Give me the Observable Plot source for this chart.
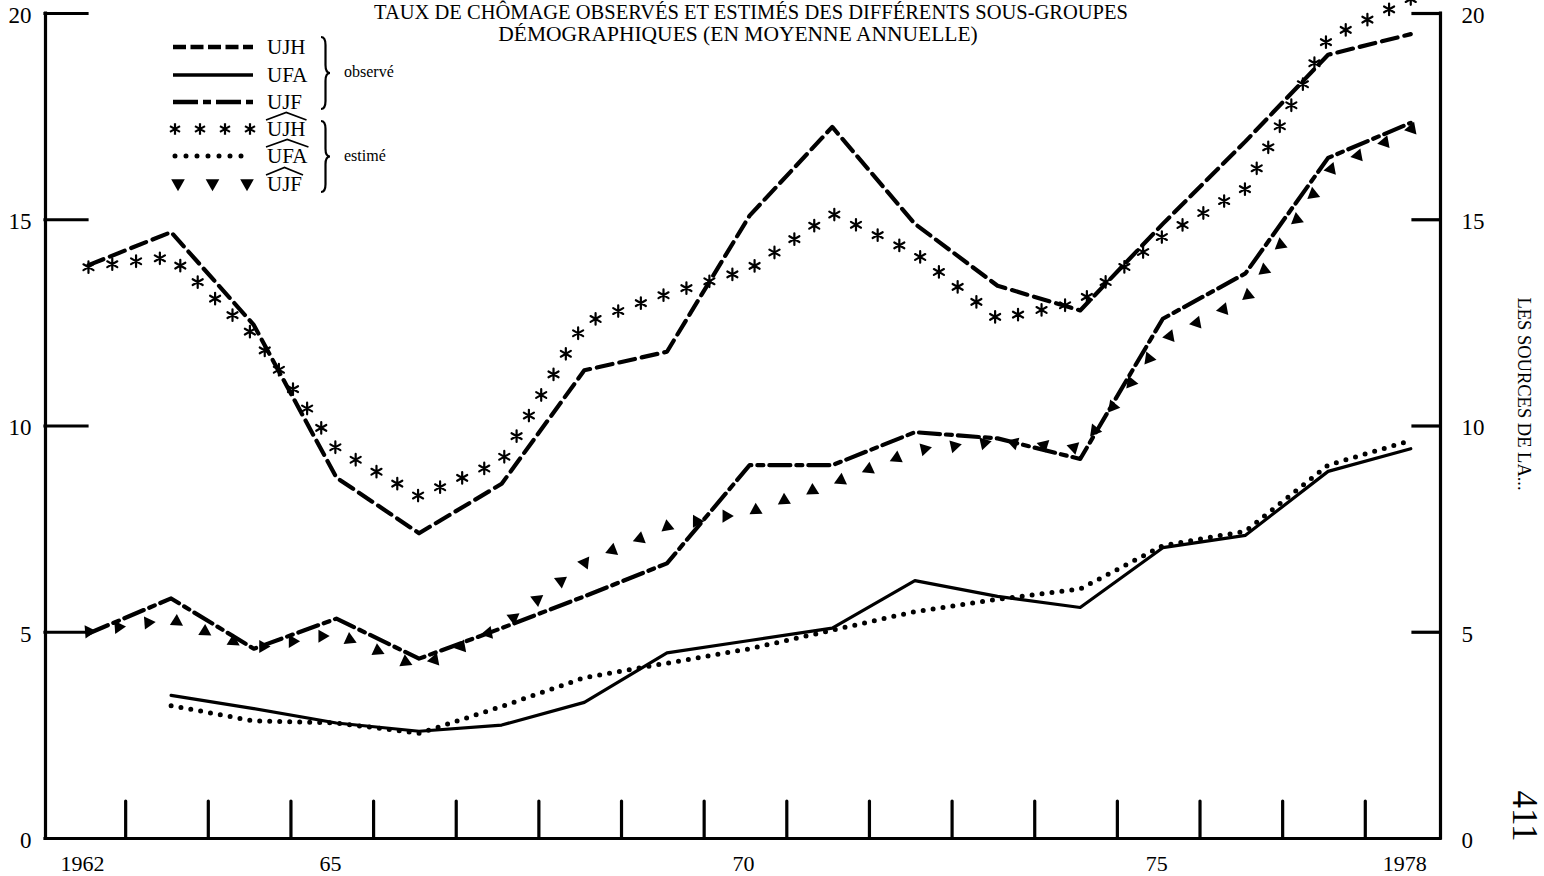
<!DOCTYPE html>
<html lang="fr">
<head>
<meta charset="utf-8">
<script src="https://cdn.jsdelivr.net/npm/d3@7"></script>
<script src="https://cdn.jsdelivr.net/npm/@observablehq/plot@0.6"></script>
<style>
  html, body { margin: 0; padding: 0; background: #fff; }
  #wrap { position: relative; width: 1544px; height: 876px; overflow: hidden; }
  #wrap svg { position: absolute; left: 0; top: 0; }
</style>
</head>
<body>
<div id="wrap"></div>
<script>
// ---------- data ----------
const years  = [1962,1963,1964,1965,1966,1967,1968,1969,1970,1971,1972,1973,1974,1975,1976,1977,1978];
// observed
const ujhObs = [13.9,14.7,12.45,8.75,7.4,8.6,11.35,11.8,15.1,17.25,14.9,13.4,12.8,14.9,16.9,19.0,19.5];
const ufaObs = [null,3.47,3.15,2.8,2.6,2.75,3.3,4.5,4.8,5.1,6.25,5.87,5.6,7.05,7.35,8.9,9.45];
const ujfObs = [4.97,5.82,4.6,5.33,4.36,5.1,5.87,6.67,9.05,9.05,9.85,9.7,9.2,12.6,13.7,16.5,17.35];
// estimated
const ujhEst = [13.85,14.1,12.2,9.45,8.3,9.15,12.5,13.2,13.8,15.15,14.2,12.6,13.0,14.6,15.75,19.4,20.35];
const ufaEst = [null,3.22,2.85,2.8,2.55,3.2,3.9,4.25,4.6,5.05,5.5,5.8,6.05,7.1,7.45,9.05,9.65];
const ujfEst = [5.0,5.3,4.6,4.95,4.15,5.15,6.7,7.55,7.9,8.6,9.4,9.6,9.45,12.1,13.1,16.2,17.2];

const yTicks      = [0, 5, 10, 15, 20];
const xLabelYears = [1962, 1965, 1970, 1975, 1978];
const xLabels     = ["1962", "65", "70", "75", "1978"];
const yearBounds  = years.slice(1);   // small ticks between the annual points

const titleLines  = ["TAUX DE CHÔMAGE OBSERVÉS ET ESTIMÉS DES DIFFÉRENTS SOUS-GROUPES",
                     "DÉMOGRAPHIQUES (EN MOYENNE ANNUELLE)"];
const sideNote    = "LES SOURCES DE LA...";
const pageNumber  = "411";
const legendLabels = ["UJH", "UFA", "UJF", "UJH", "UFA", "UJF"];
const groupLabels  = ["observé", "estimé"];

// ---------- table for Plot ----------
const rows = years.map((year, i) => ({
  year, ujhObs: ujhObs[i], ufaObs: ufaObs[i], ujfObs: ujfObs[i],
  ujhEst: ujhEst[i], ufaEst: ufaEst[i], ujfEst: ujfEst[i]
}));
const has = k => rows.filter(d => d[k] != null);

// ---------- layout ----------
const W = 1544, H = 876;
const mL = 45, mR = 104, mT = 13, mB = 38;
const X0 = 1961.48, X1 = 1978.36;
const pxPerYear = (W - mL - mR) / (X1 - X0);
const pxPerUnit = (H - mT - mB) / 20;
const FONT = "'Liberation Serif', 'DejaVu Serif', 'Times New Roman', serif";
const SW = 3.2;

const plot = Plot.plot({
  width: W, height: H,
  marginLeft: mL, marginRight: mR, marginTop: mT, marginBottom: mB,
  x: { domain: [X0, X1], axis: null },
  y: { domain: [0, 20], axis: null },
  style: { fontFamily: FONT, background: "#fff", color: "#000", overflow: "visible" },
  marks: [
    // axes frame
    Plot.ruleX([X0, X1], { y1: 0, y2: 20, stroke: "#000", strokeWidth: SW, strokeLinecap: "square" }),
    Plot.ruleY([0], { x1: X0, x2: X1, stroke: "#000", strokeWidth: SW, strokeLinecap: "square" }),
    Plot.ruleY(yTicks.slice(1), { x1: X0, x2: X0 + 42 / pxPerYear, stroke: "#000", strokeWidth: SW, strokeLinecap: "square" }),
    Plot.ruleY(yTicks.slice(1), { x1: X1 - 27 / pxPerYear, x2: X1, stroke: "#000", strokeWidth: SW, strokeLinecap: "square" }),
    Plot.ruleX(yearBounds, { x: d => d - 0.55, y1: 0, y2: 37 / pxPerUnit, stroke: "#000", strokeWidth: SW, strokeLinecap: "round" }),
    // tick labels
    Plot.text(yTicks, { x: X0, y: d => d, text: d => String(d), textAnchor: "end", dx: -14, dy: 2, fontSize: 23 }),
    Plot.text(yTicks, { x: X1, y: d => d, text: d => String(d), textAnchor: "start", dx: 21, dy: 2, fontSize: 23 }),
    Plot.text(xLabelYears, { x: d => d, y: 0, text: (d, i) => xLabels[i], dy: 25, dx: -6, fontSize: 22 }),
    // title
    Plot.text([titleLines[0]], { frameAnchor: "top", text: d => d, dx: 8, dy: -1.5, lineAnchor: "middle", textAnchor: "middle", fontSize: 20.5 }),
    Plot.text([titleLines[1]], { frameAnchor: "top", text: d => d, dx: -5, dy: 21, lineAnchor: "middle", textAnchor: "middle", fontSize: 21.5 }),
    // side notes
    Plot.text([sideNote], { frameAnchor: "right", text: d => d, rotate: 90, dx: 83, dy: -32, textAnchor: "middle", lineAnchor: "middle", fontSize: 18.5 }),
    Plot.text([pageNumber], { frameAnchor: "right", text: d => d, rotate: 90, dx: 84, dy: 390, textAnchor: "middle", lineAnchor: "middle", fontSize: 35 }),
    // observed series
    Plot.line(has("ujhObs"), { x: "year", y: "ujhObs", stroke: "#000", strokeWidth: 4.2, strokeDasharray: "16,7", strokeLinejoin: "round", ariaDescription: "UJH observé" }),
    Plot.line(has("ufaObs"), { x: "year", y: "ufaObs", stroke: "#000", strokeWidth: 3.2, strokeLinejoin: "round", ariaDescription: "UFA observé" }),
    Plot.line(has("ujfObs"), { x: "year", y: "ujfObs", stroke: "#000", strokeWidth: 4.2, strokeDasharray: "21,6,6,6", strokeLinejoin: "round", ariaDescription: "UJF observé" }),
    // estimated series (asterisks / dots / triangles drawn along these lines)
    Plot.line(has("ujhEst"), { x: "year", y: "ujhEst", stroke: "#000", strokeOpacity: 0, strokeWidth: 1, ariaDescription: "UJH estime" }),
    Plot.line(has("ufaEst"), { x: "year", y: "ufaEst", stroke: "#000", strokeWidth: 5, strokeDasharray: "0,10", strokeLinecap: "round", ariaDescription: "UFA estime" }),
    Plot.line(has("ujfEst"), { x: "year", y: "ujfEst", stroke: "#000", strokeOpacity: 0, strokeWidth: 1, ariaDescription: "UJF estime" })
  ]
});

const wrap = document.getElementById("wrap");
wrap.appendChild(plot);

// ---------- symbol helpers ----------
const NS = "http://www.w3.org/2000/svg";
function el(name, attrs) {
  const e = document.createElementNS(NS, name);
  for (const k in attrs) e.setAttribute(k, attrs[k]);
  return e;
}
function asterisk(x, y, r = 5.8) {
  let d = "";
  for (const a of [90, 30, 150]) {
    const c = Math.cos(a * Math.PI / 180) * r, s = Math.sin(a * Math.PI / 180) * r;
    d += `M${(x - c).toFixed(2)},${(y - s).toFixed(2)}L${(x + c).toFixed(2)},${(y + s).toFixed(2)}`;
  }
  return el("path", { d, stroke: "#000", "stroke-opacity": 1, "stroke-width": 2.2, "stroke-dasharray": "none", fill: "none" });
}
function triangle(x, y, rot = 0, s = 1) {
  const d = `M${-6.5 * s},${-4.6 * s}L${6.5 * s},${-4.6 * s}L0,${6.8 * s}Z`;
  return el("path", { d, fill: "#000", "fill-opacity": 1, stroke: "none", transform: `translate(${x.toFixed(2)},${y.toFixed(2)}) rotate(${rot.toFixed(1)})` });
}
function findLine(desc) {
  return [...plot.querySelectorAll("g")].find(g => g.getAttribute("aria-description") === desc);
}
function alongPath(desc, spacing, make) {
  const g = findLine(desc);
  if (!g) return;
  const path = g.querySelector("path");
  const L = path.getTotalLength();
  const n = Math.max(1, Math.round(L / spacing));
  const step = L / n;
  for (let k = 0; k <= n; k++) {
    const s = k * step;
    const p = path.getPointAtLength(s);
    const a = path.getPointAtLength(Math.max(0, s - 2)), b = path.getPointAtLength(Math.min(L, s + 2));
    const ang = Math.atan2(b.y - a.y, b.x - a.x) * 180 / Math.PI;
    g.appendChild(make(p.x, p.y, ang));
  }
}
alongPath("UJH estime", 24, (x, y) => asterisk(x, y));
alongPath("UJF estime", 30, (x, y, ang) => {
  const t = Math.max(-60, Math.min(60, ang));
  return triangle(x, y, -3 * t);
});

// ---------- legend (inside the frame, top-left) ----------
const leg = el("svg", { width: W, height: H, style: "position:absolute;left:0;top:0;pointer-events:none", "font-family": FONT });
wrap.appendChild(leg);
const rowY = [47, 75, 102, 129, 156, 184];
const sx0 = 173, sx1 = 253, labelX = 267;
leg.appendChild(el("line", { x1: sx0, x2: sx1, y1: rowY[0], y2: rowY[0], stroke: "#000", "stroke-width": 4.5, "stroke-dasharray": "13,4.5" }));
leg.appendChild(el("line", { x1: sx0, x2: sx1, y1: rowY[1], y2: rowY[1], stroke: "#000", "stroke-width": 3.6 }));
leg.appendChild(el("line", { x1: sx0, x2: sx1, y1: rowY[2], y2: rowY[2], stroke: "#000", "stroke-width": 4.5, "stroke-dasharray": "25,5,8,5" }));
for (let k = 0; k < 4; k++) leg.appendChild(asterisk(175 + k * 25, rowY[3]));
leg.appendChild(el("line", { x1: 175, x2: 252, y1: rowY[4], y2: rowY[4], stroke: "#000", "stroke-width": 5, "stroke-dasharray": "0,11", "stroke-linecap": "round" }));
for (let k = 0; k < 3; k++) leg.appendChild(triangle(178 + k * 34.5, rowY[5], 0, 1.05));
legendLabels.forEach((t, i) => {
  const tx = el("text", { x: labelX, y: rowY[i] + 7, "font-size": 21 });
  tx.textContent = t;
  leg.appendChild(tx);
  if (i >= 3) {
    const w = tx.getComputedTextLength();
    const y0 = rowY[i] - 9, y1 = rowY[i] - 16.5;
    leg.appendChild(el("path", { d: `M${labelX - 1},${y0}L${labelX + w / 2},${y1}L${labelX + w + 1},${y0}`, fill: "none", stroke: "#000", "stroke-width": 1.7 }));
  }
});
function brace(x, y0, y1, w) {
  const ym = (y0 + y1) / 2, q0 = (ym - y0) * 0.22, q1 = (y1 - ym) * 0.22;
  return `M${x},${y0} Q${x + w},${y0} ${x + w},${y0 + q0} L${x + w},${ym - q0} Q${x + w},${ym} ${x + 2 * w},${ym} ` +
         `Q${x + w},${ym} ${x + w},${ym + q1} L${x + w},${y1 - q1} Q${x + w},${y1} ${x},${y1}`;
}
leg.appendChild(el("path", { d: brace(321, 37, 109, 4.5), fill: "none", stroke: "#000", "stroke-width": 2.2 }));
leg.appendChild(el("path", { d: brace(321, 121, 192, 4.5), fill: "none", stroke: "#000", "stroke-width": 2.2 }));
const g1 = el("text", { x: 344, y: 77, "font-size": 16 }); g1.textContent = groupLabels[0]; leg.appendChild(g1);
const g2 = el("text", { x: 344, y: 161, "font-size": 16 }); g2.textContent = groupLabels[1]; leg.appendChild(g2);
</script>
</body>
</html>
